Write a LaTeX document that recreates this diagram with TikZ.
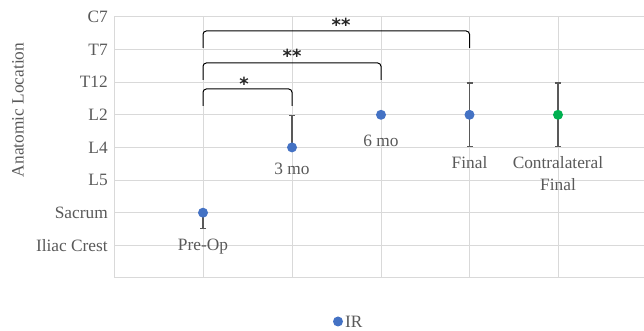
\documentclass[tikz,border=0pt]{standalone}
\usepackage{fontspec}
\setmainfont{Liberation Serif}
\newfontfamily\starfont{DejaVu Sans}
\usetikzlibrary{positioning}
\usetikzlibrary{arrows.meta}
\usepackage{xcolor}
\definecolor{gridgray}{RGB}{217,217,217}
\definecolor{labelgray}{RGB}{89,89,89}
\definecolor{barsgray}{RGB}{89,89,89}
\definecolor{irblue}{RGB}{68,114,196}
\definecolor{contragreen}{RGB}{0,176,80}
\tikzset{
  gridline/.style={draw=gridgray, line width=0.75pt},
  errbar/.style={draw=barsgray, line width=1.1pt},
  sigbracket/.style={draw=black, line width=0.75pt, rounded corners=2.5pt},
  datadot/.style={circle, inner sep=0pt, minimum size=7.5pt},
  ticklabel/.style={anchor=east, inner sep=0.75pt, text=labelgray, font=\fontsize{13}{15.6}\selectfont},
  catlabel/.style={inner sep=0.75pt, text=labelgray, font=\fontsize{13}{16}\selectfont, align=center},
  starlabel/.style={anchor=base, inner sep=0.75pt, text=black!85, font=\starfont\bfseries\fontsize{13.5}{16}\selectfont}
}

\begin{document}
\begin{tikzpicture}[x=0.75pt,y=0.75pt,yscale=-1,xscale=1]
\path[use as bounding box] (0,0) rectangle (644,331);

%Straight Lines: horizontal grid
\draw[gridline] (114,16.9) -- (644,16.9) ;
\draw[gridline] (114,49.5) -- (644,49.5) ;
\draw[gridline] (114,82.2) -- (644,82.2) ;
\draw[gridline] (114,114.8) -- (644,114.8) ;
\draw[gridline] (114,147.4) -- (644,147.4) ;
\draw[gridline] (114,180.1) -- (644,180.1) ;
\draw[gridline] (114,212.7) -- (644,212.7) ;
\draw[gridline] (114,245.4) -- (644,245.4) ;
\draw[gridline] (114,278) -- (644,278) ;
%Straight Lines: vertical grid
\draw[gridline] (114,16.9) -- (114,278) ;
\draw[gridline] (203,16.9) -- (203,278) ;
\draw[gridline] (292,16.9) -- (292,278) ;
\draw[gridline] (381,16.9) -- (381,278) ;
\draw[gridline] (469.5,16.9) -- (469.5,278) ;
\draw[gridline] (558,16.9) -- (558,278) ;

% Text Node: axis title
\node (axistitle) [rotate=90, text=labelgray, font=\fontsize{13}{15.6}\selectfont] at (18,110) {Anatomic Location};
% Text Node: levels
\node (lvlCseven) [ticklabel] at (109,16.9) {C7};
\node (lvlTseven) [ticklabel] at (109,49.5) {T7};
\node (lvlTtwelve) [ticklabel] at (109,82.2) {T12};
\node (lvlLtwo) [ticklabel] at (109,114.8) {L2};
\node (lvlLfour) [ticklabel] at (109,147.4) {L4};
\node (lvlLfive) [ticklabel] at (109,180.1) {L5};
\node (lvlSacrum) [ticklabel] at (109,212.7) {Sacrum};
\node (lvlIliac) [ticklabel] at (109,245.4) {Iliac Crest};

%Coordinates of the points and their error bars
\coordinate (preop) at (203,212.7);
\coordinate (preopLo) at (203,229.1);
\coordinate (threemo) at (292,147.4);
\coordinate (threemoHi) at (292,114.8);
\coordinate (sixmo) at (381,114.8);
\coordinate (final) at (469.5,114.8);
\coordinate (finalHi) at (469.5,82.2);
\coordinate (finalLo) at (469.5,147.4);
\coordinate (contra) at (558,114.8);
\coordinate (contraHi) at (558,82.2);
\coordinate (contraLo) at (558,147.4);

%Error bars
\draw[errbar, -{Bar[width=4.5pt]}] (preop) -- (preopLo) ;
\draw[errbar, -{Bar[width=4.5pt]}] (threemo) -- (threemoHi) ;
\draw[errbar, {Bar[width=4.5pt]}-{Bar[width=4.5pt]}] (finalLo) -- (finalHi) ;
\draw[errbar, {Bar[width=4.5pt]}-{Bar[width=4.5pt]}] (contraLo) -- (contraHi) ;

%Shape: Circle points
\node (preopDot) [datadot, fill=irblue] at (preop) {};
\node (threemoDot) [datadot, fill=irblue] at (threemo) {};
\node (sixmoDot) [datadot, fill=irblue] at (sixmo) {};
\node (finalDot) [datadot, fill=irblue] at (final) {};
\node (contraDot) [datadot, fill=contragreen] at (contra) {};

% Text Node: point labels
\node (preopLabel) [catlabel] at (203,247) {Pre-Op};
\node (threemoLabel) [catlabel] at (292,169) {3 mo};
\node (sixmoLabel) [catlabel] at (381,141) {6 mo};
\node (finalLabel) [catlabel] at (469.5,163) {Final};
\node (contraLabel) [catlabel, anchor=north] at (558,155.5) {Contralateral\\Final};

%Shape: significance brackets
\coordinate (sigAl) at (203,106);
\coordinate (sigAr) at (292,106);
\coordinate (sigBl) at (203,80);
\coordinate (sigBr) at (381,80);
\coordinate (sigCl) at (203,48);
\coordinate (sigCr) at (469.5,48);
\draw[sigbracket] (sigAl) -- ++(0,-17) -| (sigAr) ;
\draw[sigbracket] (sigBl) -- ++(0,-17) -| (sigBr) ;
\draw[sigbracket] (sigCl) -- ++(0,-17) -| (sigCr) ;
% Text Node: stars
\node (starA) [starlabel] at (244,90.5) {*};
\node (starB) [starlabel] at (292,63) {**};
\node (starC) [starlabel] at (341,31.5) {**};

%Legend
\node (legendDot) [datadot, fill=irblue] at (338,321.5) {};
\node (legendText) [right=0.5pt of legendDot, inner sep=0.75pt, text=labelgray, font=\fontsize{13}{15.6}\selectfont] {IR};

\end{tikzpicture}
\end{document}
